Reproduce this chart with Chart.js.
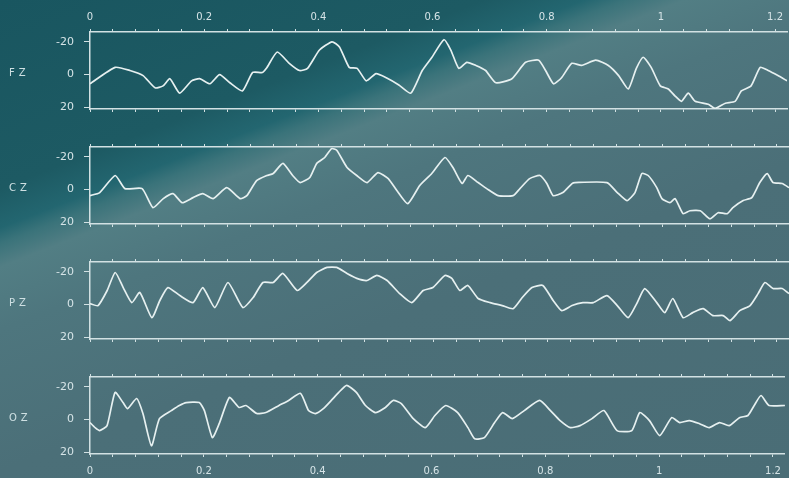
<!DOCTYPE html>
<html>
<head>
<meta charset="utf-8">
<script src="https://cdn.jsdelivr.net/npm/chart.js@4.4.1/dist/chart.umd.min.js"></script>
<style>
  html, body { margin: 0; padding: 0; }
  body {
    width: 789px; height: 478px; overflow: hidden; position: relative;
    background: linear-gradient(158.7deg, #195660 0%, #1d5a63 24%, #236670 29%, #3a737a 31%, #527e84 34%, #4e767e 42%, #4b6f78 60%, #4a6d76 100%);
    font-family: "DejaVu Sans", sans-serif;
  }
  .panel { position: absolute; left: 0; width: 789px; height: 125px; }
  .chan { position: absolute; left: 9px; color: #cfe0e3; font-size: 10px; letter-spacing: 4px; }
</style>
</head>
<body>
<script>
// canais e valores (uV), tempo em segundos
const channels = ['FZ', 'CZ', 'PZ', 'OZ'];
const xLabelValues = [0, 0.2, 0.4, 0.6, 0.8, 1, 1.2];
const xLabels = ['0', '0.2', '0.4', '0.6', '0.8', '1', '1.2'];
const yTickValues = [-20, 0, 20];
const yTickLabels = ['-20', '0', '20'];

const fzT = [0, .044, .070, .093, .114, .128, .140, .157, .178, .192, .210, .227, .245, .267, .285, .302, .309, .328, .349, .367, .381, .402, .424, .437, .454, .468, .484, .501, .519, .541, .562, .582, .599, .620, .632, .646, .660, .676, .693, .711, .739, .763, .786, .798, .812, .826, .844, .861, .886, .908, .926, .943, .957, .969, .983, .999, 1.013, 1.025, 1.036, 1.048, 1.060, 1.083, 1.095, 1.113, 1.130, 1.141, 1.158, 1.174, 1.188, 1.205, 1.221];
const fzV = [5.6, -4.4, -2.5, 0.6, 8.1, 6.9, 2.5, 11.3, 3.8, 2.5, 5.6, 0, 5.0, 10.0, -1.3, -1.3, -3.8, -13.8, -6.9, -2.5, -3.8, -15.0, -20.0, -16.9, -4.4, -3.8, 3.8, -0.6, 1.9, 6.3, 11.3, -2.5, -10.6, -21.3, -15.0, -3.8, -7.5, -5.6, -2.5, 5.0, 2.5, -7.5, -8.8, -2.5, 5.6, 1.9, -6.9, -5.6, -8.8, -5.6, 0.6, 8.8, -3.8, -10.6, -4.4, 6.9, 8.8, 13.1, 16.3, 11.3, 16.3, 18.1, 20.6, 17.5, 16.3, 10.0, 6.9, -4.4, -2.5, 0.6, 3.8];

const czT = [0, .017, .044, .061, .091, .110, .128, .145, .161, .180, .197, .215, .239, .262, .274, .291, .309, .320, .337, .354, .367, .384, .396, .410, .422, .431, .449, .466, .484, .503, .521, .536, .555, .576, .597, .620, .634, .650, .660, .678, .693, .713, .739, .751, .768, .786, .798, .809, .826, .842, .847, .903, .921, .938, .952, .964, .975, .990, .999, 1.013, 1.022, 1.036, 1.048, 1.066, 1.083, 1.097, 1.113, 1.123, 1.141, 1.156, 1.170, 1.183, 1.193, 1.209, 1.221];
const czV = [3.7, 1.8, -8.6, -0.6, -0.6, 11.0, 5.5, 2.5, 8.0, 4.9, 2.5, 5.5, -1.2, 5.5, 3.7, -5.5, -8.6, -9.8, -16.0, -8.6, -4.3, -7.4, -16.0, -19.6, -25.0, -24.0, -13.5, -8.6, -4.3, -10.4, -6.7, 0.6, 8.6, -2.5, -9.8, -19.6, -13.5, -3.7, -8.6, -4.3, -0.6, 3.7, 3.7, -0.6, -6.7, -8.6, -3.7, 3.7, 1.8, -3.7, -4.3, -4.3, 1.8, 6.7, 1.8, -9.8, -8.6, -1.2, 5.5, 8.0, 5.5, 14.7, 12.9, 12.9, 17.8, 14.1, 14.7, 11.0, 6.7, 4.9, -4.3, -9.8, -4.3, -3.7, -1.2];

const pzT = [0, .014, .030, .044, .058, .073, .087, .108, .122, .136, .157, .180, .197, .218, .241, .267, .285, .302, .320, .337, .362, .379, .396, .414, .431, .449, .466, .484, .501, .519, .541, .562, .582, .599, .620, .632, .646, .660, .678, .699, .720, .739, .755, .772, .791, .809, .824, .842, .861, .879, .903, .921, .940, .955, .969, .990, 1.004, 1.018, 1.036, 1.053, 1.071, 1.088, 1.106, 1.118, 1.135, 1.153, 1.167, 1.179, 1.193, 1.209, 1.221];
const pzV = [-0.6, 0.6, -8.6, -19.6, -10.4, -1.2, -7.4, 8.0, -2.5, -10.4, -5.5, -1.2, -10.4, 1.8, -13.5, 1.8, -4.3, -13.5, -13.5, -19.0, -8.6, -13.5, -19.6, -22.7, -22.7, -19.0, -16.0, -14.7, -17.8, -14.7, -6.7, -1.2, -8.6, -10.4, -17.8, -16.0, -8.6, -11.7, -3.7, -1.2, 0.6, 2.5, -4.3, -10.4, -11.7, -2.5, 3.7, 0.6, -1.2, -1.2, -5.5, 0.6, 8.0, -0.6, -9.8, -1.2, 4.9, -3.7, 8.0, 4.9, 2.5, 6.7, 6.7, 9.8, 3.7, 0.6, -6.7, -13.5, -9.8, -9.8, -6.7];

const ozT = [0, .009, .017, .030, .044, .058, .066, .082, .093, .108, .122, .143, .157, .169, .192, .201, .215, .227, .245, .262, .274, .293, .309, .332, .349, .370, .384, .396, .410, .424, .437, .451, .468, .484, .501, .519, .533, .547, .568, .589, .606, .625, .646, .664, .676, .693, .711, .725, .742, .763, .790, .809, .826, .844, .861, .882, .903, .926, .952, .966, .983, 1.001, 1.022, 1.036, 1.053, 1.071, 1.088, 1.106, 1.123, 1.141, 1.156, 1.167, 1.179, 1.193, 1.221];
const ozV = [1.8, 4.9, 6.7, 3.7, -16.6, -10.4, -6.7, -12.9, -3.7, 16.0, -0.6, -5.5, -8.6, -10.4, -10.4, -5.5, 11.0, 2.5, -13.5, -7.4, -8.6, -3.7, -4.3, -8.6, -11.7, -16.0, -5.5, -3.7, -6.7, -11.7, -16.6, -20.9, -16.6, -8.6, -4.3, -7.4, -11.7, -9.8, -0.6, 4.9, -2.5, -8.6, -4.3, 4.9, 11.7, 11.0, 1.8, -4.3, -0.6, -5.5, -11.7, -5.5, 0.6, 4.9, 3.7, -0.6, -5.5, 6.7, 6.7, -4.3, 0.6, 9.8, -1.2, 1.8, 0.6, 2.5, 4.9, 1.8, 3.7, -1.2, -2.5, -8.6, -14.7, -8.6, -8.6];

const series = [[fzT, fzV], [czT, czV], [pzT, pzV], [ozT, ozV]];

const lineCol = '#d2e1e3';
const textCol = '#d6e4e7';
const tickFont = { family: 'DejaVu Sans', size: 10 };

function xLabel(v) {
  const i = xLabelValues.findIndex(t => Math.abs(t - v) < 1e-6);
  return i >= 0 ? xLabels[i] : '';
}

function xAxis(pos, showLabels) {
  return {
    type: 'linear', position: pos, min: 0, max: 1.221,
    afterBuildTicks: s => {
      const t = [];
      for (let i = 0; i <= 30; i++) t.push({ value: Math.round(i * 4) / 100 });
      s.ticks = t;
    },
    afterFit: s => { s.height = 24; },
    grid: { drawOnChartArea: false, drawTicks: true, tickLength: 3, color: lineCol, lineWidth: 1 },
    border: { display: true, color: lineCol, width: 1.5 },
    ticks: { display: showLabels, autoSkip: false, maxRotation: 0, color: textCol, font: tickFont, padding: pos === 'top' ? 6 : 8, callback: v => xLabel(v) }
  };
}

function makePanel(i) {
  const top = 32 + 115 * i - 24;
  const div = document.createElement('div');
  div.className = 'panel';
  div.style.top = top + 'px';
  const cv = document.createElement('canvas');
  div.appendChild(cv);
  document.body.appendChild(div);

  const lab = document.createElement('div');
  lab.className = 'chan';
  lab.textContent = channels[i];
  lab.style.top = (32 + 115 * i + 42 - 7) + 'px';
  document.body.appendChild(lab);

  const [T, V] = series[i];
  const pts = T.map((t, k) => ({ x: t, y: V[k] }));

  new Chart(cv, {
    type: 'line',
    data: { datasets: [{ data: pts, xAxisID: 'x', yAxisID: 'y', borderColor: '#e6f0f0', borderWidth: 1.7, pointRadius: 0, tension: 0.18, fill: false }] },
    options: {
      responsive: true, maintainAspectRatio: false, animation: false,
      layout: { padding: 0 },
      plugins: { legend: { display: false }, tooltip: { enabled: false } },
      scales: {
        x: xAxis('bottom', i === 3),
        x2: xAxis('top', i === 0),
        y: {
          reverse: true, min: -26, max: 21,
          afterBuildTicks: s => { s.ticks = yTickValues.map(v => ({ value: v })); },
          afterFit: s => { s.width = 90; },
          grid: { drawOnChartArea: false, drawTicks: true, tickLength: 6, color: lineCol },
          border: { display: true, color: lineCol, width: 1.5 },
          ticks: { color: textCol, font: { family: 'DejaVu Sans', size: 11 }, padding: 10, callback: v => yTickLabels[yTickValues.indexOf(v)] }
        }
      }
    }
  });
}

channels.forEach((c, i) => makePanel(i));
</script>
</body>
</html>
